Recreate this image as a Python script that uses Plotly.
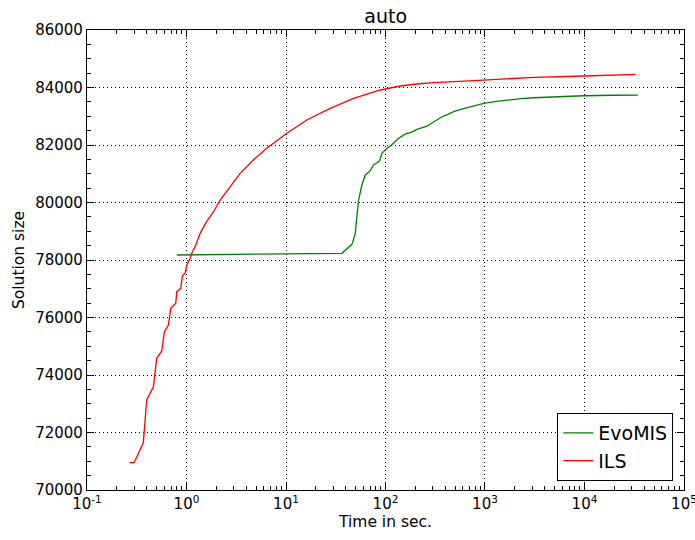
import plotly.graph_objects as go

# EvoMIS (green)
evo_t = [0.80, 1.66, 9.8, 36.5, 46.0, 49.7, 51.6, 53.6, 57.9, 62.6, 70.0, 75.9, 85.2, 88.0,
         92.0, 103.5, 115, 135.5, 158, 185, 207, 235, 261, 280, 305, 340, 370, 420, 484, 560,
         660, 800, 971, 1300, 1667, 2300, 3091, 5000, 9840, 20000, 34400]
evo_v = [78174, 78185, 78220, 78232, 78545, 78928, 79507, 80087, 80609, 80957, 81100, 81304,
         81420, 81480, 81710, 81884, 82000, 82232, 82382, 82460, 82544, 82600, 82660, 82720,
         82810, 82900, 82984, 83060, 83158, 83230, 83297, 83380, 83450, 83520, 83566, 83610,
         83644, 83680, 83713, 83730, 83738]

# ILS (red)
ils_t = [0.267, 0.297, 0.368, 0.398, 0.465, 0.502, 0.564, 0.60, 0.658, 0.695, 0.78, 0.798,
         0.876, 0.91, 0.968, 1.007, 1.087, 1.13, 1.22, 1.37, 1.59, 1.87, 2.18, 2.75, 3.46,
         4.7, 6.4, 10.2, 16.2, 27.8, 47.8, 88.7, 141, 207, 305, 971, 3091, 9840, 32600]
ils_v = [70950, 70950, 71645, 73130, 73593, 74580, 74835, 75506, 75740, 76320, 76494, 76900,
         77015, 77453, 77537, 77826, 78050, 78232, 78464, 78928, 79332, 79680, 80087, 80550,
         81015, 81478, 81884, 82406, 82870, 83276, 83624, 83913, 84052, 84121, 84167, 84260,
         84353, 84400, 84458]

x_tickvals = [0.1, 1, 10, 100, 1000, 10000, 100000]
x_ticktext = ["10<sup>-1</sup>", "10<sup>0</sup>", "10<sup>1</sup>", "10<sup>2</sup>",
              "10<sup>3</sup>", "10<sup>4</sup>", "10<sup>5</sup>"]
x_minor = [m * 10.0 ** e for e in range(-1, 5) for m in range(2, 10)]

FONT = "DejaVu Sans"

fig = go.Figure()
fig.add_trace(go.Scatter(x=evo_t, y=evo_v, mode="lines", name="EvoMIS",
                         line=dict(color="#008000", width=1.3)))
fig.add_trace(go.Scatter(x=ils_t, y=ils_v, mode="lines", name="ILS",
                         line=dict(color="#ff0000", width=1.3)))

axis_common = dict(
    showline=True, linecolor="black", linewidth=1.2, mirror="ticks",
    ticks="inside", ticklen=7, tickcolor="black", tickwidth=1,
    showgrid=True, gridcolor="black", griddash="1px,3px", gridwidth=1,
    zeroline=False, tickfont=dict(family=FONT, size=15, color="black"),
    ticklabeloverflow="allow", automargin=False,
)

fig.update_xaxes(type="log", range=[-1.0002, 5.0002], tickvals=x_tickvals, ticktext=x_ticktext,
                 minor=dict(tickvals=x_minor, ticks="inside", ticklen=3.5, tickcolor="black",
                            showgrid=False),
                 title=dict(text="Time in sec.", font=dict(family=FONT, size=15.5, color="black"),
                            standoff=4),
                 **axis_common)
fig.update_yaxes(range=[70000, 86000], tickmode="linear", tick0=70000, dtick=2000,
                 tickformat="d",
                 minor=dict(ticks="inside", ticklen=3.5, tickcolor="black", dtick=500,
                            showgrid=False),
                 title=dict(text="Solution size", font=dict(family=FONT, size=15.5, color="black"),
                            standoff=6),
                 **axis_common)

fig.update_layout(
    width=695, height=540,
    margin=dict(l=87, r=11, t=30, b=50, autoexpand=False),
    paper_bgcolor="white", plot_bgcolor="white",
    title=dict(text="auto", x=0.555, xanchor="center", y=0.958, yanchor="bottom",
               font=dict(family=FONT, size=19, color="black")),
    showlegend=True,
    legend=dict(x=0.982, xanchor="right", y=0.0195, yanchor="bottom",
                bordercolor="black", borderwidth=1, bgcolor="white",
                font=dict(family=FONT, size=19, color="black"),
                itemwidth=30, tracegroupgap=0),
    font=dict(family=FONT, color="black"),
)

fig.write_html("out.html")
